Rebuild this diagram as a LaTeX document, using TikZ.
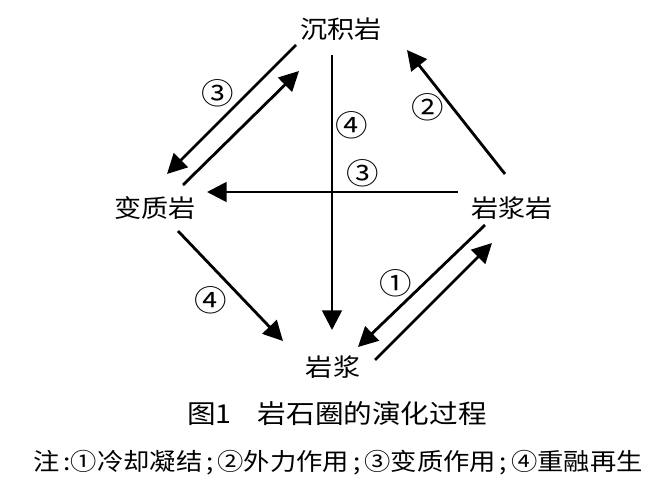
\documentclass[tikz,border=0pt]{standalone}
\usepackage{fontspec}
\setmainfont[FakeStretch=1.1]{Noto Sans CJK SC}
\usetikzlibrary{arrows.meta}
\begin{document}
\begin{tikzpicture}[x=0.025cm,y=-0.025cm,
  arr/.style={line width=2pt,-{Triangle[length=14pt,width=14pt]}},
  rock/.style={font=\fontsize{17.5}{20}\selectfont,inner sep=0pt},
  num/.style={font=\fontsize{21}{22}\selectfont,inner sep=0pt}]
 \useasboundingbox (0,0) rectangle (660,480);
 \node[rock] (sed) at (341,29) {沉积岩};
 \node[rock] (met) at (155,208) {变质岩};
 \node[rock] (ign) at (512,208) {岩浆岩};
 \node[rock] (mag) at (333,367) {岩浆};
 \draw[arr] ([shift={(-45,16)}]sed.center) -- ([shift={(12,-34)}]met.center);
 \draw[arr] ([shift={(28,-23)}]met.center) -- ([shift={(-42,42)}]sed.center);
 \draw[arr] ([shift={(-7,-34)}]ign.center) -- ([shift={(66,21)}]sed.center);
 \draw[arr] ([shift={(-9,26)}]sed.center) -- ([shift={(-1,-37)}]mag.center);
 \draw[arr] ([shift={(-54,-16)}]ign.center) -- ([shift={(52,-16)}]met.center);
 \draw[arr] ([shift={(23,23)}]met.center) -- ([shift={(-50,-26)}]mag.center);
 \draw[arr] ([shift={(-27,17)}]ign.center) -- ([shift={(25,-20)}]mag.center);
 \draw[arr] ([shift={(42,-7)}]mag.center) -- ([shift={(-20,35)}]ign.center);
 \node[num] (n3a) at (218,93) {③};
 \node[num] (n4a) at (352,125) {④};
 \node[num] (n2) at (428,107) {②};
 \node[num] (n3b) at (363,173) {③};
 \node[num] (n4b) at (211,300) {④};
 \node[num] (n1) at (396,283) {①};
 \node[font=\fontsize{18.5}{22}\selectfont,inner sep=0pt] (cap) at (337,414) {图1\hspace{1em}岩石圈的演化过程};
 \node[font=\fontsize{17}{18}\selectfont,inner sep=0pt] (note) at (338,463) {注\,:①冷却凝结\,;\,②外力作用\,;\,③变质作用\,;\,④重融再生};
\end{tikzpicture}
\end{document}
